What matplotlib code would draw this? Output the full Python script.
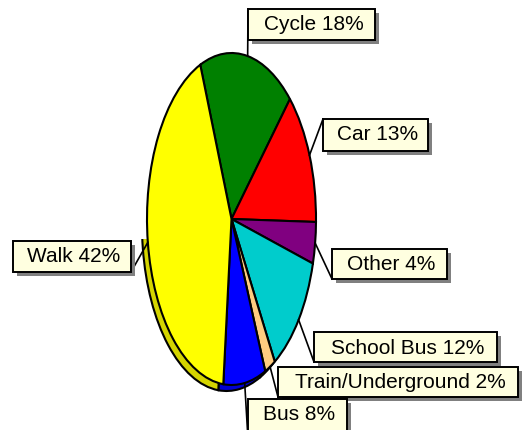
import numpy as np
import matplotlib
matplotlib.use("Agg")
import matplotlib.pyplot as plt
from matplotlib.patches import Rectangle
from matplotlib.colors import to_rgb
from matplotlib.transforms import Bbox, TransformedBbox

plt.rcParams['font.family'] = ['Liberation Sans', 'DejaVu Sans']

# data (clockwise from the top)
labels = ['Cycle', 'Car', 'Other', 'School Bus', 'Train/Underground', 'Bus', 'Walk']
values = [18, 13, 4, 12, 2, 8, 42]
colors = ['#008000', '#ff0000', '#800080', '#00cccc', '#ffcc80', '#0000ff', '#ffff00']

# layout: label boxes in pixels (left, top, width, height) and which corner the leader hits
boxes = [(248, 9, 127, 31), (323, 119, 105, 32), (332, 249, 115, 30), (314, 332, 183, 30),
         (278, 367, 240, 30), (248, 399, 99, 40), (13, 241, 118, 31)]
corners = [(0, 1), (0, 1), (0, 0), (0, 0), (0, 0), (0, 0), (1, 0)]

W, H = 522, 430
cx, cy = 231.5, 219      # pie centre in pixels
ra, rb = 84.5, 166       # ellipse half-axes in pixels
start = 111.7            # degrees, ccw from +x

fig = plt.figure(figsize=(W / 100, H / 100), dpi=100)

# pie drawn in a circle space that is stretched into a tall ellipse
pax = fig.add_axes([(cx - ra) / W, (H - cy - rb) / H, 2 * ra / W, 2 * rb / H])
dark = [tuple(c * 0.83 for c in to_rgb(col)) for col in colors]
shadow, _ = pax.pie(values, colors=dark, startangle=start, counterclock=False,
                    center=(-5 / ra, -6 / rb),
                    wedgeprops=dict(edgecolor='black', linewidth=1.5))
wedges, _ = pax.pie(values, colors=colors, startangle=start, counterclock=False,
                    wedgeprops=dict(edgecolor='black', linewidth=1.5))
pax.set_xlim(-1, 1)
pax.set_ylim(-1, 1)
pax.set_aspect('auto')
pax.axis('off')

# depth only shows below the middle, like a tilted 3D pie
lower = TransformedBbox(Bbox([[-3, -3], [3, -0.12]]), pax.transData)
for w in shadow:
    w.set_zorder(1)
    w.set_clip_on(True)
    w.set_clip_path(None)
    w.set_clip_box(lower)
for w in wedges:
    w.set_zorder(2)

# overlay in pixel coordinates for labels
ax = fig.add_axes([0, 0, 1, 1])
ax.set_xlim(0, W)
ax.set_ylim(H, 0)
ax.axis('off')
ax.patch.set_alpha(0)

for w, name, val, (x0, y0, bw, bh), (fx, fy) in zip(wedges, labels, values, boxes, corners):
    mid = np.deg2rad((w.theta1 + w.theta2) / 2)
    px = cx + ra * np.cos(mid)
    py = cy - rb * np.sin(mid)
    bx = x0 + fx * bw
    by = y0 + (1 - fy) * bh
    ax.plot([px, bx], [py, by], color='black', lw=1.2, zorder=3)
    ax.add_patch(Rectangle((x0 + 4, y0 + 4), bw, bh, facecolor='#808080', edgecolor='none', zorder=4))
    ax.add_patch(Rectangle((x0, y0), bw, bh, facecolor='#ffffe0', edgecolor='black', lw=1.4, zorder=5))
    ax.text(x0 + bw / 2 + 2, y0 + 16, f'{name} {val}%', ha='center', va='center',
            fontsize=15, color='black', zorder=6)

fig.savefig('out.png', dpi=100)
